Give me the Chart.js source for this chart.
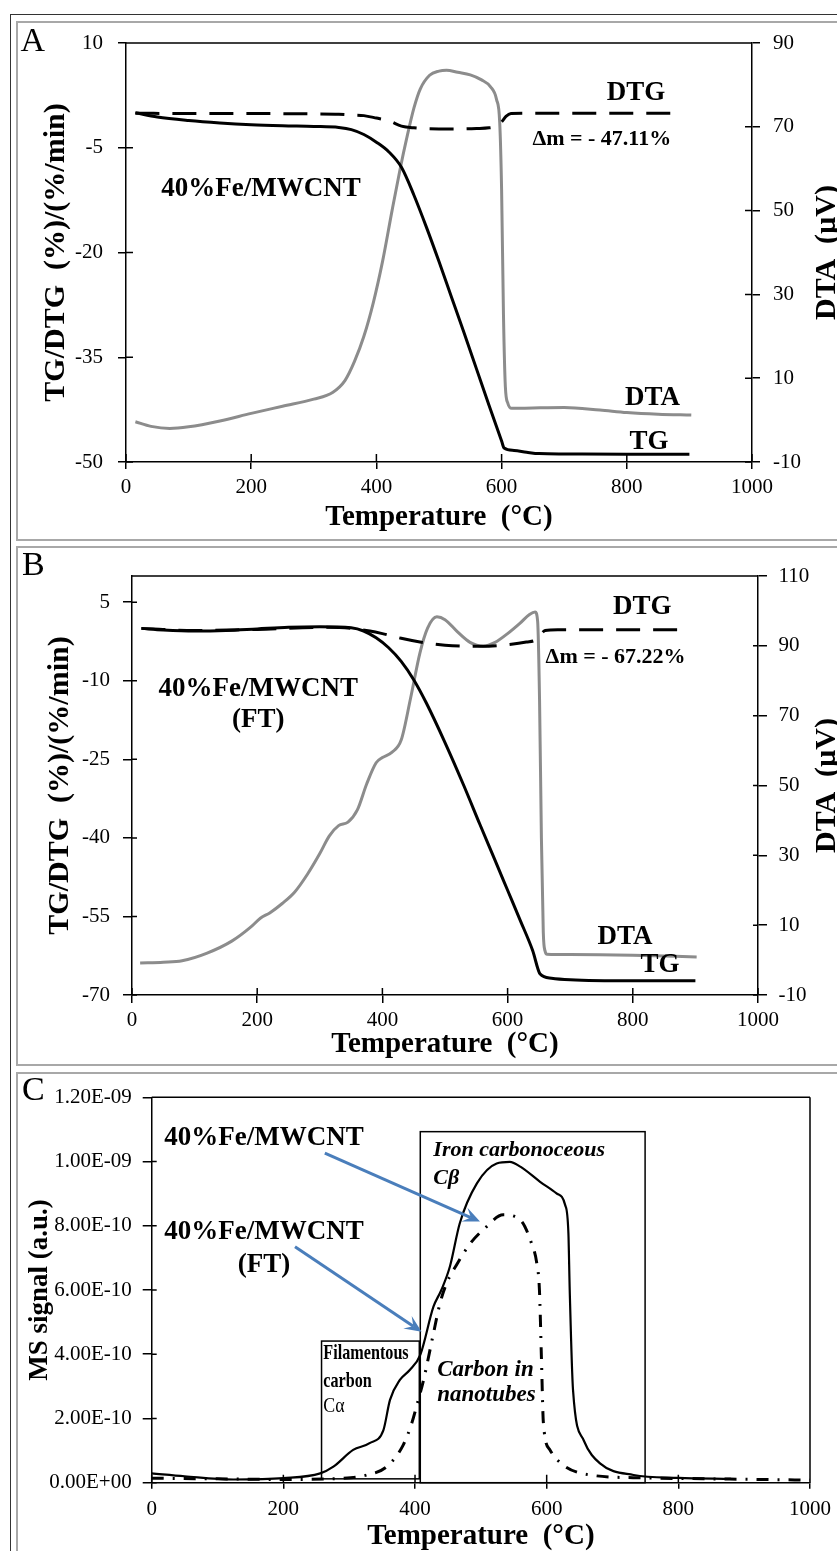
<!DOCTYPE html>
<html><head><meta charset="utf-8">
<script src="https://cdn.jsdelivr.net/npm/chart.js@4.4.1/dist/chart.umd.min.js"></script>
<style>
html,body{margin:0;padding:0;background:#fff;}
#page{position:relative;width:837px;height:1551px;overflow:hidden;background:#fff;}
.outer{position:absolute;left:10px;top:14px;width:900px;height:1600px;border-left:1.5px solid #333;border-top:1.5px solid #333;}
.panel{position:absolute;left:16px;width:900px;border:2px solid #a8a8a8;box-sizing:border-box;}
canvas{position:absolute;}
</style></head><body>
<div id="page">
<div class="outer"></div>
<div class="panel" style="top:21px;height:520px"></div>
<div class="panel" style="top:546px;height:520px"></div>
<div class="panel" style="top:1072px;height:520px"></div>
<canvas id="cA" width="820" height="517" style="left:17px;top:22px"></canvas>
<canvas id="cB" width="820" height="518" style="left:17px;top:547px"></canvas>
<canvas id="cC" width="820" height="478" style="left:17px;top:1073px"></canvas>
</div>
<script>
// ---------------- DATA ----------------
// Tick values
const ticksX = [0, 200, 400, 600, 800, 1000];
const ticksA_left = [-50, -35, -20, -5, 10];
const ticksA_right = [-10, 10, 30, 50, 70, 90];
const ticksB_left = [-70, -55, -40, -25, -10, 5];
const ticksB_right = [-10, 10, 30, 50, 70, 90, 110];
const ticksC = [0, 2e-10, 4e-10, 6e-10, 8e-10, 1.0e-9, 1.2e-9];
const labelsC = ['0.00E+00', '2.00E-10', '4.00E-10', '6.00E-10', '8.00E-10', '1.00E-09', '1.20E-09'];

// Panel A: 40%Fe/MWCNT
const tempA_TG = [15, 50, 100, 150, 200, 250, 300, 340, 360, 380, 400, 420, 440, 460, 480, 500, 520, 540, 560, 580, 600, 604, 620, 640, 660, 700, 800, 900];
const valA_TG  = [0.0, -0.6, -1.1, -1.45, -1.7, -1.85, -1.95, -2.1, -2.4, -3.1, -4.2, -5.6, -7.8, -11.8, -16.4, -21.3, -26.4, -31.5, -36.7, -41.9, -47.0, -48.0, -48.35, -48.6, -48.8, -48.85, -48.9, -48.9];
const tempA_DTG = [15, 100, 200, 300, 340, 360, 380, 400, 420, 440, 460, 500, 530, 560, 580, 592, 600, 607, 615, 640, 700, 800, 890];
const valA_DTG  = [-0.05, -0.1, -0.1, -0.15, -0.2, -0.3, -0.4, -0.75, -1.15, -1.9, -2.15, -2.3, -2.3, -2.25, -2.15, -1.9, -1.3, -0.5, -0.1, -0.05, -0.05, -0.05, -0.05];
const tempA_DTA = [15, 40, 70, 100, 150, 200, 250, 300, 330, 350, 365, 380, 395, 410, 425, 438, 448, 460, 470, 485, 500, 512, 530, 550, 568, 582, 592, 597, 600, 603, 606, 610, 616, 650, 700, 757, 800, 850, 903];
const valA_DTA  = [-0.4, -1.5, -2.0, -1.6, -0.2, 1.6, 3.3, 5.0, 6.6, 9.5, 14, 20, 28, 38, 50, 60, 67, 74.5, 79, 82.3, 83.3, 83.5, 83, 82.4, 81.2, 79.6, 76.5, 71, 55, 25, 8, 4, 2.8, 2.9, 3.0, 2.4, 1.8, 1.4, 1.2];

// Panel B: 40%Fe/MWCNT (FT)
const tempB_TG = [15, 50, 100, 150, 200, 250, 300, 350, 370, 390, 410, 430, 450, 470, 500, 530, 556, 580, 600, 620, 640, 652, 670, 700, 800, 900];
const valB_TG  = [0.0, -0.3, -0.5, -0.4, -0.1, 0.2, 0.3, 0.1, -0.5, -1.8, -3.7, -6.3, -9.8, -14.2, -21.8, -30.0, -37.5, -44.3, -50.0, -55.7, -61.5, -66.0, -66.8, -67.1, -67.3, -67.3];
const tempB_DTG = [15, 100, 200, 300, 350, 380, 400, 430, 460, 500, 540, 570, 600, 630, 645, 652, 660, 680, 750, 820, 890];
const valB_DTG  = [0, -0.4, -0.2, 0.2, 0, -0.5, -1.0, -1.9, -2.6, -3.2, -3.4, -3.4, -3.1, -2.6, -2.2, -1.3, -0.4, -0.25, -0.25, -0.25, -0.25];
const tempB_DTA = [13, 50, 80, 120, 160, 190, 205, 220, 240, 260, 280, 300, 315, 330, 345, 360, 375, 390, 400, 415, 430, 445, 460, 472, 487, 500, 520, 540, 561, 580, 600, 620, 635, 644, 648, 651, 654, 657, 660, 663, 700, 800, 902];
const valB_DTA  = [-0.8, -0.6, -0.2, 2.0, 5.5, 9.5, 12, 13.5, 16.2, 19.5, 24.5, 30.5, 35.5, 38.5, 39.5, 43, 50.5, 56.5, 58, 59.5, 63, 75, 88, 95, 98.3, 97.5, 94, 91, 89.9, 91, 93.5, 96.5, 99, 99.7, 97, 75, 35, 8, 2.5, 1.7, 1.6, 1.4, 0.9];

// Panel C: MS signal
const tempC_Fe = [0, 50, 124, 200, 256, 276, 306, 331, 352, 362, 377, 392, 408, 428, 440, 453, 468, 494, 524, 544, 560, 590, 615, 628, 633, 635, 640, 656, 681, 732, 800, 880];
const valC_Fe  = [2.9e-11, 2.0e-11, 1.0e-11, 1.4e-11, 2.9e-11, 5.0e-11, 1.02e-10, 1.23e-10, 1.64e-10, 2.58e-10, 3.20e-10, 3.51e-10, 3.98e-10, 5.48e-10, 6.00e-10, 6.73e-10, 8.08e-10, 9.32e-10, 9.94e-10, 9.99e-10, 9.84e-10, 9.37e-10, 9.01e-10, 8.65e-10, 7.77e-10, 6.00e-10, 2.89e-10, 1.33e-10, 6.0e-11, 2.4e-11, 1.5e-11, 1.2e-11];
const tempC_FT = [0, 100, 200, 291, 327, 357, 382, 395, 405, 413, 428, 438, 448, 463, 484, 506, 534, 560, 577, 585, 589, 592, 595, 605, 625, 666, 750, 850, 1000];
const valC_FT  = [1.4e-11, 1.2e-11, 1.0e-11, 1.4e-11, 2.4e-11, 5.0e-11, 1.17e-10, 1.85e-10, 2.58e-10, 3.20e-10, 4.65e-10, 5.59e-10, 6.21e-10, 6.78e-10, 7.45e-10, 7.92e-10, 8.34e-10, 8.18e-10, 7.45e-10, 6.83e-10, 6.00e-10, 3.90e-10, 1.86e-10, 1.02e-10, 5.5e-11, 2.4e-11, 1.5e-11, 1.2e-11, 8e-12];

// ---------------- HELPERS ----------------
const FONT = "'Liberation Serif','Times New Roman',serif";
const pts = (xs, ys) => xs.map((x, i) => ({x: x, y: ys[i]}));
const setTicks = arr => (s => { s.ticks = arr.map(v => ({value: v})); });

function lineDS(label, data, axis, color, width, dash) {
  return {label, data, yAxisID: axis, borderColor: color, borderWidth: width,
    borderDash: dash || [], pointRadius: 0, fill: false, cubicInterpolationMode: 'monotone'};
}

function xScale(h, tl, pad, tpad) {
  return {
    type: 'linear', position: 'bottom', min: 0, max: 1000,
    afterBuildTicks: setTicks(ticksX),
    ticks: {font: {family: FONT, size: 21}, color: '#000', padding: pad, maxRotation: 0, autoSkip: false,
      callback: v => String(v)},
    grid: {drawOnChartArea: false, drawTicks: true, tickLength: tl, color: '#000', lineWidth: 1.5},
    border: {display: true, color: '#000', width: 1.5},
    title: {display: true, text: 'Temperature  (°C)', color: '#000',
      font: {family: FONT, size: 29, weight: 'bold', lineHeight: 1}, padding: {top: 0, bottom: tpad}},
    afterFit: s => { s.height = h; s.paddingLeft = 0; s.paddingRight = 0; s.paddingTop = 0; s.paddingBottom = 0; }
  };
}

function yScale(pos, min, max, ticks, w, tl, pad, title, tsize, tpad, labels) {
  const o = {
    type: 'linear', position: pos, min: min, max: max,
    afterBuildTicks: setTicks(ticks),
    ticks: {font: {family: FONT, size: 21}, color: '#000', padding: pad, autoSkip: false,
      callback: labels ? ((v, i) => labels[i]) : (v => String(v))},
    grid: {drawOnChartArea: false, drawTicks: true, tickLength: tl, color: '#000', lineWidth: 1.5},
    border: {display: true, color: '#000', width: 1.5},
    afterFit: s => { s.width = w; s.paddingLeft = 0; s.paddingRight = 0; s.paddingTop = 0; s.paddingBottom = 0; }
  };
  if (title) {
    o.title = {display: true, text: title, color: '#000',
      font: {family: FONT, size: tsize, weight: 'bold', lineHeight: 1}, padding: {top: tpad, bottom: 0}};
  }
  return o;
}

function drawText(ctx, s, px, py, font, align, sx) {
  ctx.save();
  ctx.font = font; ctx.fillStyle = '#000'; ctx.textAlign = align || 'center'; ctx.textBaseline = 'middle';
  ctx.translate(px, py);
  if (sx) ctx.scale(sx, 1);
  ctx.fillText(s, 0, 0);
  ctx.restore();
}

function drawArrow(ctx, x1, y1, x2, y2) {
  const a = Math.atan2(y2 - y1, x2 - x1), L = 17, W = 7.5, N = 10;
  const c = Math.cos(a), s = Math.sin(a);
  ctx.beginPath(); ctx.moveTo(x1, y1); ctx.lineTo(x2 - N * c, y2 - N * s); ctx.stroke();
  ctx.beginPath();
  ctx.moveTo(x2, y2);
  ctx.lineTo(x2 - L * c + W * s, y2 - L * s - W * c);
  ctx.lineTo(x2 - N * c, y2 - N * s);
  ctx.lineTo(x2 - L * c - W * s, y2 - L * s + W * c);
  ctx.closePath(); ctx.fill();
}

function decor(spec) {
  return {
    id: 'decor',
    afterDraw(chart) {
      const {ctx, chartArea: a, scales} = chart;
      const xs = scales.x, ys = scales.y, y2 = scales.y2;
      ctx.save();
      ctx.strokeStyle = '#000'; ctx.lineWidth = 1.5;
      ctx.beginPath();
      xs.ticks.forEach(t => { const p = xs.getPixelForValue(t.value); ctx.moveTo(p, a.bottom); ctx.lineTo(p, a.bottom - spec.inX); });
      ys.ticks.forEach(t => { const p = ys.getPixelForValue(t.value); ctx.moveTo(a.left, p); ctx.lineTo(a.left + spec.inY, p); });
      if (y2) y2.ticks.forEach(t => { const p = y2.getPixelForValue(t.value); ctx.moveTo(a.right, p); ctx.lineTo(a.right - spec.inY, p); });
      ctx.moveTo(a.left, a.top); ctx.lineTo(a.right, a.top);
      if (!y2) { ctx.moveTo(a.right, a.top); ctx.lineTo(a.right, a.bottom); }
      ctx.stroke();
      // boxes
      (spec.boxes || []).forEach(b => {
        const x1 = xs.getPixelForValue(b.x1), x2 = xs.getPixelForValue(b.x2);
        const yb = ys.getPixelForValue(b.y1), yt = ys.getPixelForValue(b.y2);
        ctx.strokeRect(x1, yt, x2 - x1, yb - yt);
      });
      // arrows
      ctx.strokeStyle = '#4a7ebb'; ctx.fillStyle = '#4a7ebb'; ctx.lineWidth = 3;
      (spec.arrows || []).forEach(r => {
        drawArrow(ctx, xs.getPixelForValue(r.x1), ys.getPixelForValue(r.y1), xs.getPixelForValue(r.x2), ys.getPixelForValue(r.y2));
      });
      // texts
      (spec.texts || []).forEach(t => {
        drawText(ctx, t.s, xs.getPixelForValue(t.x), ys.getPixelForValue(t.y), t.font, t.align, t.sx);
      });
      // panel letter
      ctx.font = '34px ' + FONT; ctx.fillStyle = '#000'; ctx.textAlign = 'left'; ctx.textBaseline = 'alphabetic';
      ctx.fillText(spec.letter.s, spec.letter.x, spec.letter.y);
      // right axis title (reads bottom to top)
      if (spec.rightTitle) {
        ctx.save();
        ctx.translate(spec.rightTitle.x, (a.top + a.bottom) / 2);
        ctx.rotate(-Math.PI / 2);
        ctx.font = 'bold 30px ' + FONT; ctx.textAlign = 'center'; ctx.textBaseline = 'middle';
        ctx.fillText(spec.rightTitle.s, 0, 0);
        ctx.restore();
      }
      ctx.restore();
    }
  };
}

const common = {responsive: false, animation: false, events: [],
  plugins: {legend: {display: false}, tooltip: {enabled: false}}};
const B27 = 'bold 27px ' + FONT, B22 = 'bold 22px ' + FONT;
const DTG_DASH = [24, 13];

// ---------------- PANEL A ----------------
new Chart(document.getElementById('cA'), {
  type: 'line',
  data: {datasets: [
    lineDS('TG', pts(tempA_TG, valA_TG), 'y', '#000', 3),
    lineDS('DTG', pts(tempA_DTG, valA_DTG), 'y', '#000', 3, DTG_DASH),
    lineDS('DTA', pts(tempA_DTA, valA_DTA), 'y2', '#8c8c8c', 3)
  ]},
  options: Object.assign({}, common, {
    layout: {padding: {top: 21, left: 0, right: 0, bottom: 0}},
    scales: {
      x: xScale(77, 7, 6, 6.5),
      y: yScale('left', -50, 10, ticksA_left, 109, 8, 15, 'TG/DTG  (%)/(%/min)', 30, 24.5),
      y2: yScale('right', -10, 90, ticksA_right, 85, 8, 13)
    }
  }),
  plugins: [decor({inX: 8, inY: 7,
    letter: {s: 'A', x: 3.5, y: 29},
    rightTitle: {s: 'DTA  (µV)', x: 810},
    texts: [
      {s: '40%Fe/MWCNT', x: 215.7, y: -10.9, font: B27},
      {s: 'DTG', x: 814.7, y: 2.84, font: B27},
      {s: 'Δm = - 47.11%', x: 760, y: -3.75, font: B22},
      {s: 'DTA', x: 841, y: -40.77, font: B27},
      {s: 'TG', x: 835.5, y: -47.07, font: B27}
    ]})]
});

// ---------------- PANEL B ----------------
new Chart(document.getElementById('cB'), {
  type: 'line',
  data: {datasets: [
    lineDS('TG', pts(tempB_TG, valB_TG), 'y', '#000', 3),
    lineDS('DTG', pts(tempB_DTG, valB_DTG), 'y', '#000', 3, DTG_DASH),
    lineDS('DTA', pts(tempB_DTA, valB_DTA), 'y2', '#8c8c8c', 3)
  ]},
  options: Object.assign({}, common, {
    layout: {padding: {top: 29, left: 0, right: 0, bottom: 0}},
    scales: {
      x: xScale(70, 8, 5, 5.5),
      y: yScale('left', -70, 10, ticksB_left, 115, 9, 13, 'TG/DTG  (%)/(%/min)', 30, 28.5),
      y2: yScale('right', -10, 110, ticksB_right, 79, 9, 11.5)
    }
  }),
  plugins: [decor({inX: 7, inY: 5,
    letter: {s: 'B', x: 5, y: 28},
    rightTitle: {s: 'DTA  (µV)', x: 810},
    texts: [
      {s: '40%Fe/MWCNT', x: 201.7, y: -11.6, font: B27},
      {s: '(FT)', x: 201.7, y: -17.5, font: B27},
      {s: 'DTG', x: 815, y: 4.03, font: B27},
      {s: 'Δm = - 67.22%', x: 772.5, y: -5.6, font: B22},
      {s: 'DTA', x: 787.6, y: -58.9, font: B27},
      {s: 'TG', x: 843.5, y: -64.3, font: B27}
    ]})]
});

// ---------------- PANEL C ----------------
const BI22 = 'italic bold 22px ' + FONT, BI23 = 'italic bold 23px ' + FONT, BN = 'bold 21px ' + FONT;
new Chart(document.getElementById('cC'), {
  type: 'line',
  data: {datasets: [
    lineDS('40%Fe/MWCNT', pts(tempC_Fe, valC_Fe), 'y', '#000', 2.2),
    lineDS('40%Fe/MWCNT (FT)', pts(tempC_FT, valC_FT), 'y', '#000', 3, [12, 9, 2, 9])
  ]},
  options: Object.assign({}, common, {
    layout: {padding: {top: 24.3, left: 0, right: 27, bottom: 0}},
    scales: {
      x: xScale(68.3, 6, 8, 0),
      y: yScale('left', 0, 1.2e-9, ticksC, 134.7, 9, 11, 'MS signal (a.u.)', 27, 9.5, labelsC)
    }
  }),
  plugins: [decor({inX: 8, inY: 5,
    letter: {s: 'C', x: 5, y: 27},
    boxes: [
      {x1: 258, x2: 406.5, y1: 1.2e-11, y2: 4.41e-10},
      {x1: 408, x2: 749.5, y1: 0, y2: 1.093e-9}
    ],
    arrows: [
      {x1: 263, y1: 1.026e-9, x2: 498.7, y2: 8.13e-10},
      {x1: 217.7, y1: 7.35e-10, x2: 410, y2: 4.70e-10}
    ],
    texts: [
      {s: '40%Fe/MWCNT', x: 170.6, y: 1.073e-9, font: B27},
      {s: '40%Fe/MWCNT', x: 170.6, y: 7.82e-10, font: B27},
      {s: '(FT)', x: 170.6, y: 6.78e-10, font: B27},
      {s: 'Filamentous', x: 260.7, y: 4.01e-10, font: BN, align: 'left', sx: 0.77},
      {s: 'carbon', x: 260.7, y: 3.15e-10, font: BN, align: 'left', sx: 0.77},
      {s: 'Cα', x: 260.7, y: 2.37e-10, font: '21px ' + FONT, align: 'left', sx: 0.85},
      {s: 'Iron carbonoceous', x: 427.8, y: 1.034e-9, font: BI22, align: 'left'},
      {s: 'Cβ', x: 427.8, y: 9.49e-10, font: BI22, align: 'left'},
      {s: 'Carbon in', x: 433.8, y: 3.51e-10, font: BI23, align: 'left'},
      {s: 'nanotubes', x: 433.8, y: 2.73e-10, font: BI23, align: 'left'}
    ]})]
});
</script>
</body></html>
